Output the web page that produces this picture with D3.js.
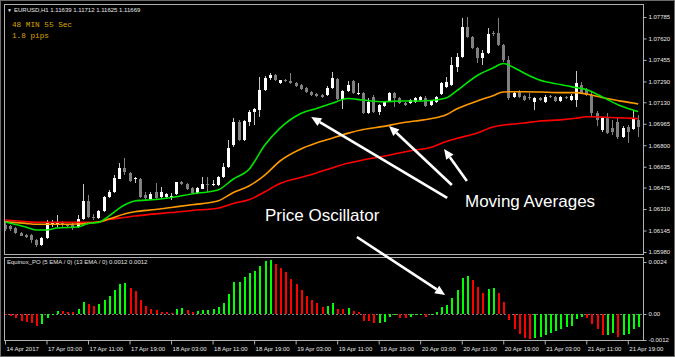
<!DOCTYPE html>
<html><head><meta charset="utf-8">
<script src="https://cdn.jsdelivr.net/npm/d3@7"></script>
<style>html,body{margin:0;padding:0;background:#000;overflow:hidden}svg{display:block}</style>
</head><body>
<script>
// ---------- DATA ----------
const opens=[1.06187,1.06180,1.06164,1.06126,1.06111,1.06111,1.06072,1.06034,1.06088,1.06195,
1.06187,1.06210,1.06187,1.06195,1.06172,1.06233,1.06372,1.06249,1.06241,1.06295,
1.06402,1.06441,1.06541,1.06625,1.06587,1.06541,1.06541,1.06418,1.06387,1.06441,
1.06402,1.06402,1.06402,1.06426,1.06518,1.06502,1.06472,1.06433,1.06464,1.06502,
1.06495,1.06495,1.06556,1.06633,1.06802,1.06978,1.06840,1.06978,1.07055,1.07071,
1.07224,1.07316,1.07339,1.07278,1.07301,1.07293,1.07278,1.07263,1.07240,1.07209,
1.07193,1.07186,1.07186,1.07240,1.07309,1.07155,1.07217,1.07293,1.07193,1.07201,
1.07048,1.07170,1.07055,1.07101,1.07140,1.07201,1.07163,1.07124,1.07124,1.07132,
1.07147,1.07163,1.07109,1.07132,1.07193,1.07247,1.07263,1.07401,1.07478,1.07708,
1.07631,1.07547,1.07470,1.07508,1.07662,1.07662,1.07570,1.07455,1.07170,1.07209,
1.07178,1.07170,1.07132,1.07163,1.07132,1.07178,1.07170,1.07140,1.07170,1.07147,
1.07147,1.07263,1.07224,1.07186,1.07048,1.06917,1.07009,1.06932,1.06978,1.06863,
1.06940,1.06925,1.06994];
const highs=[1.06210,1.06187,1.06172,1.06134,1.06118,1.06118,1.06080,1.06095,1.06226,1.06226,
1.06264,1.06218,1.06195,1.06203,1.06264,1.06502,1.06418,1.06272,1.06303,1.06410,
1.06456,1.06571,1.06664,1.06702,1.06594,1.06556,1.06548,1.06441,1.06441,1.06510,
1.06479,1.06433,1.06433,1.06518,1.06525,1.06510,1.06479,1.06479,1.06556,1.06556,
1.06533,1.06564,1.06664,1.06840,1.07009,1.06994,1.06994,1.07071,1.07086,1.07324,
1.07332,1.07355,1.07347,1.07301,1.07309,1.07355,1.07286,1.07270,1.07247,1.07217,
1.07201,1.07193,1.07255,1.07362,1.07316,1.07224,1.07293,1.07301,1.07278,1.07209,
1.07163,1.07186,1.07117,1.07140,1.07209,1.07209,1.07170,1.07132,1.07155,1.07170,
1.07178,1.07178,1.07147,1.07178,1.07286,1.07324,1.07478,1.07508,1.07777,1.07785,
1.07639,1.07554,1.07531,1.07700,1.07677,1.07777,1.07578,1.07485,1.07217,1.07224,
1.07186,1.07201,1.07170,1.07170,1.07186,1.07186,1.07178,1.07178,1.07178,1.07193,
1.07370,1.07286,1.07240,1.07209,1.07063,1.07017,1.07048,1.06994,1.07017,1.06948,
1.06955,1.07071,1.07032];
const lows=[1.06141,1.06141,1.06118,1.06103,1.06088,1.06049,1.06018,1.06026,1.06080,1.06172,
1.06172,1.06172,1.06172,1.06149,1.06164,1.06226,1.06241,1.06226,1.06233,1.06287,
1.06395,1.06433,1.06541,1.06571,1.06518,1.06510,1.06395,1.06379,1.06379,1.06379,
1.06395,1.06395,1.06379,1.06418,1.06495,1.06456,1.06426,1.06426,1.06464,1.06441,
1.06487,1.06487,1.06548,1.06625,1.06786,1.06833,1.06833,1.06948,1.06955,1.07017,
1.07217,1.07301,1.07293,1.07270,1.07286,1.07270,1.07247,1.07224,1.07201,1.07178,
1.07170,1.07163,1.07178,1.07232,1.07147,1.07078,1.07209,1.07193,1.07186,1.07040,
1.07040,1.07048,1.07032,1.07094,1.07132,1.07094,1.07117,1.07101,1.07117,1.07124,
1.07140,1.07094,1.07101,1.07124,1.07186,1.07240,1.07255,1.07362,1.07470,1.07624,
1.07539,1.07432,1.07416,1.07501,1.07639,1.07562,1.07439,1.07147,1.07163,1.07163,
1.07140,1.07147,1.07071,1.07140,1.07124,1.07163,1.07132,1.07132,1.07155,1.07140,
1.07094,1.07193,1.07178,1.07017,1.06948,1.06902,1.06886,1.06879,1.06848,1.06856,
1.06817,1.06917,1.06863];
const closes=[1.06157,1.06157,1.06126,1.06103,1.06095,1.06072,1.06034,1.06088,1.06203,1.06210,
1.06210,1.06187,1.06180,1.06164,1.06233,1.06372,1.06249,1.06241,1.06295,1.06402,
1.06441,1.06548,1.06625,1.06594,1.06525,1.06548,1.06402,1.06395,1.06426,1.06395,
1.06441,1.06426,1.06410,1.06518,1.06502,1.06464,1.06433,1.06472,1.06502,1.06495,
1.06502,1.06556,1.06633,1.06779,1.06978,1.06840,1.06986,1.07055,1.07078,1.07224,
1.07316,1.07339,1.07301,1.07301,1.07293,1.07278,1.07255,1.07232,1.07209,1.07186,
1.07178,1.07170,1.07240,1.07316,1.07155,1.07217,1.07263,1.07201,1.07201,1.07048,
1.07132,1.07055,1.07109,1.07132,1.07201,1.07163,1.07124,1.07109,1.07147,1.07163,
1.07170,1.07101,1.07140,1.07170,1.07278,1.07286,1.07416,1.07478,1.07708,1.07631,
1.07547,1.07470,1.07508,1.07654,1.07658,1.07570,1.07455,1.07163,1.07201,1.07170,
1.07147,1.07163,1.07163,1.07147,1.07170,1.07170,1.07140,1.07170,1.07163,1.07178,
1.07278,1.07201,1.07186,1.07048,1.06994,1.07009,1.06894,1.06902,1.06863,1.06932,
1.06902,1.07009,1.06940];
const oscValues=[-0.00003,-0.00008,-0.00020,-0.00033,-0.00036,-0.00043,-0.00056,-0.00047,-0.00020,-0.00003,
0.00016,0.00012,0.00011,0.00010,0.00022,0.00056,0.00047,0.00037,0.00045,0.00065,
0.00081,0.00112,0.00138,0.00141,0.00121,0.00105,0.00065,0.00037,0.00022,0.00017,
0.00009,0.00008,0.00006,0.00022,0.00026,0.00019,0.00011,0.00014,0.00017,0.00019,
0.00022,0.00034,0.00053,0.00093,0.00149,0.00150,0.00171,0.00189,0.00197,0.00223,
0.00243,0.00251,0.00233,0.00212,0.00192,0.00161,0.00140,0.00109,0.00084,0.00065,
0.00050,0.00034,0.00037,0.00053,0.00025,0.00022,0.00026,0.00014,0.00009,-0.00031,
-0.00032,-0.00043,-0.00040,-0.00036,-0.00012,-0.00006,-0.00017,-0.00020,-0.00012,-0.00006,
-0.00003,-0.00012,-0.00006,0.00011,0.00031,0.00042,0.00076,0.00109,0.00164,0.00177,
0.00155,0.00124,0.00099,0.00115,0.00119,0.00099,0.00057,-0.00028,-0.00070,-0.00090,
-0.00109,-0.00116,-0.00110,-0.00108,-0.00098,-0.00087,-0.00078,-0.00070,-0.00059,-0.00056,
-0.00025,-0.00016,-0.00019,-0.00047,-0.00071,-0.00098,-0.00095,-0.00087,-0.00105,-0.00098,
-0.00090,-0.00071,-0.00059];
const maIdx=[0,4,6,8,10,14,16,18,20,23,25,29,32,36,41,44,47,50,53,57,60,63,66,69,73,76,79,82,85,87,91,94,96,98,100,103,107,110,112,115,118,121,122];
const maFast=[1.06210,1.06172,1.06149,1.06149,1.06164,1.06172,1.06199,1.06207,1.06256,1.06341,1.06372,1.06383,1.06399,1.06426,1.06456,1.06541,1.06614,1.06798,1.06932,1.07044,1.07082,1.07122,1.07159,1.07147,1.07134,1.07140,1.07140,1.07144,1.07163,1.07217,1.07336,1.07393,1.07428,1.07397,1.07355,1.07301,1.07266,1.07243,1.07228,1.07173,1.07113,1.07071,1.07059];
const maMid=[1.06213,1.06200,1.06193,1.06193,1.06193,1.06195,1.06200,1.06210,1.06233,1.06272,1.06289,1.06306,1.06322,1.06343,1.06372,1.06437,1.06487,1.06569,1.06679,1.06771,1.06817,1.06854,1.06891,1.06921,1.06945,1.06969,1.06986,1.07003,1.07034,1.07078,1.07140,1.07181,1.07209,1.07211,1.07211,1.07209,1.07204,1.07204,1.07193,1.07167,1.07144,1.07124,1.07117];
const maSlow=[1.06226,1.06214,1.06208,1.06208,1.06208,1.06208,1.06208,1.06210,1.06229,1.06245,1.06256,1.06273,1.06283,1.06299,1.06316,1.06353,1.06381,1.06441,1.06506,1.06552,1.06587,1.06625,1.06661,1.06687,1.06715,1.06740,1.06763,1.06783,1.06829,1.06852,1.06894,1.06940,1.06955,1.06963,1.06971,1.06986,1.06995,1.07007,1.07019,1.07017,1.07011,1.07006,1.07004];
const priceTicks=[1.07785,1.07620,1.07455,1.07290,1.07130,1.06965,1.06800,1.06635,1.06475,1.06310,1.06145,1.05980];
const priceTickLabels=["1.07785","1.07620","1.07455","1.07290","1.07130","1.06965","1.06800","1.06635","1.06475","1.06310","1.06145","1.05980"];
const oscTicks=[0.0024,0,-0.0012];
const oscTickLabels=["0.0024","0.00","-0.0012"];
const timeTickIdx=[0,8,16,24,32,40,48,56,64,72,80,88,96,104,112,120];
const timeLabels=["14 Apr 2017","17 Apr 03:00","17 Apr 11:00","17 Apr 19:00","18 Apr 03:00","18 Apr 11:00","18 Apr 19:00","19 Apr 03:00","19 Apr 11:00","19 Apr 19:00","20 Apr 03:00","20 Apr 11:00","20 Apr 19:00","21 Apr 03:00","21 Apr 11:00","21 Apr 19:00"];
const headerText="EURUSD,H1  1.11639 1.11712 1.11625 1.11669";
const timerText="48 MIN 55 Sec";
const spreadText="1.8 pips";
const oscTitle="Equinox_PO (5 EMA / 0) (13 EMA / 0) 0.0012 0.0012";
// annotations: [tailIndex, tailValue, tipIndex, tipValue, panel]
const annoArrows=[[85.2,1.06395,59.0,1.07017,"p"],[86.1,1.06495,74.0,1.06948,"p"],[89.0,1.06525,84.6,1.06771,"p"],[67.8,1.06095,84.8,0.00088,"o"]];

// ---------- LAYOUT ----------
const W=675,H=357;
const L=4,R=643,mainTop=4,mainBot=254,oscTop=257,oscBot=340;
const svg=d3.select("body").append("svg").attr("width",W).attr("height",H).style("background","#000");
const x=d3.scaleLinear().domain([0,122]).range([5,5+122*5.19]);
const y=d3.scaleLinear().domain([1.05980,1.07785]).range([252,17]);
const yo=d3.scaleLinear().domain([-0.0012,0.0024]).range([340,262]);
const defs=svg.append("defs");
defs.append("clipPath").attr("id","cm").append("rect").attr("x",L+1).attr("y",mainTop+1).attr("width",R-L-1).attr("height",mainBot-mainTop-1);
defs.append("clipPath").attr("id","co").append("rect").attr("x",L+1).attr("y",oscTop+1).attr("width",R-L-1).attr("height",oscBot-oscTop-1);

const FONT="'Liberation Sans', Arial, sans-serif";
// frames
svg.append("rect").attr("x",0.5).attr("y",0.5).attr("width",W-1).attr("height",H-1).attr("fill","none").attr("stroke","#6a6a6a");
svg.append("rect").attr("x",L+0.5).attr("y",mainTop+0.5).attr("width",R-L).attr("height",mainBot-mainTop).attr("fill","none").attr("stroke","#b0b0b0");
svg.append("rect").attr("x",L+0.5).attr("y",oscTop+0.5).attr("width",R-L).attr("height",oscBot-oscTop).attr("fill","none").attr("stroke","#b0b0b0");

const data=opens.map((o,i)=>({i,o,h:highs[i],l:lows[i],c:closes[i]}));
const gm=svg.append("g").attr("clip-path","url(#cm)");
// candles
const cg=gm.append("g").attr("shape-rendering","crispEdges");
cg.selectAll("line.w").data(data).join("line")
  .attr("x1",d=>Math.round(x(d.i))+0.5).attr("x2",d=>Math.round(x(d.i))+0.5)
  .attr("y1",d=>y(d.h)).attr("y2",d=>y(d.l))
  .attr("stroke",d=>d.c>=d.o?"#c8c8c8":"#808080").attr("stroke-width",1);
cg.selectAll("rect.b").data(data).join("rect")
  .attr("x",d=>Math.round(x(d.i))-1).attr("width",3)
  .attr("y",d=>y(Math.max(d.o,d.c))).attr("height",d=>Math.max(1,Math.abs(y(d.o)-y(d.c))))
  .attr("fill",d=>d.c>=d.o?"#ffffff":"#808080");
// moving averages
const line=d3.line().x(d=>x(d[0])).y(d=>y(d[1])).curve(d3.curveMonotoneX);
[[maSlow,"#ff0000"],[maMid,"#ff9900"],[maFast,"#00e600"]].forEach(([arr,col])=>{
  gm.append("path").datum(maIdx.map((k,j)=>[k,arr[j]])).attr("d",line).attr("fill","none").attr("stroke",col).attr("stroke-width",1.6);
});

// oscillator
const go=svg.append("g").attr("clip-path","url(#co)");
go.append("line").attr("x1",L).attr("x2",R).attr("y1",yo(0)+0.5).attr("y2",yo(0)+0.5).attr("stroke","#7a7a7a").attr("stroke-dasharray","2,2");
go.append("g").attr("shape-rendering","crispEdges").selectAll("rect").data(oscValues).join("rect")
  .attr("x",(v,i)=>Math.round(x(i))-0.5).attr("width",2)
  .attr("y",v=>Math.min(yo(v),yo(0))).attr("height",v=>Math.max(1,Math.abs(yo(v)-yo(0))))
  .attr("fill",(v,i)=>(i>0&&v>oscValues[i-1])?"#00ff00":"#ff0000");

// price axis
const pa=svg.append("g").attr("transform",`translate(${R+0.5},0)`);
const pax=d3.axisRight(y).tickValues(priceTicks).tickFormat((d,i)=>priceTickLabels[i]).tickSize(3).tickPadding(2);
pa.call(pax);
const oa=svg.append("g").attr("transform",`translate(${R+0.5},0)`);
oa.call(d3.axisRight(yo).tickValues(oscTicks).tickFormat((d,i)=>oscTickLabels[i]).tickSize(3).tickPadding(2));
[pa,oa].forEach(g=>{g.select(".domain").remove();g.selectAll("line").attr("stroke","#b0b0b0");
  g.selectAll("text").attr("fill","#e8e8e8").style("font-family",FONT).style("font-size","6px");});
// time axis
const ta=svg.append("g").attr("transform",`translate(0,${oscBot+0.5})`);
ta.call(d3.axisBottom(x).tickValues(timeTickIdx).tickFormat((d,i)=>timeLabels[i]).tickSize(4).tickPadding(2));
ta.select(".domain").remove();
ta.selectAll("line").attr("stroke","#b0b0b0");
ta.selectAll("text").attr("fill","#e8e8e8").attr("text-anchor","start").attr("dx",1).style("font-family",FONT).style("font-size","6px");

// header texts
svg.append("text").attr("x",7).attr("y",12).attr("fill","#e8e8e8").style("font-family",FONT).style("font-size","5px").text("▼");
svg.append("text").attr("x",14).attr("y",12).attr("fill","#e8e8e8").style("font-family",FONT).style("font-size","6px").text(headerText);
svg.append("text").attr("x",12).attr("y",27).attr("fill","#d9a40a").style("font-family","'Liberation Mono', monospace").style("font-size","7.7px").text(timerText);
svg.append("text").attr("x",12).attr("y",38).attr("fill","#d9a40a").style("font-family","'Liberation Mono', monospace").style("font-size","7.7px").text(spreadText);
svg.append("text").attr("x",7).attr("y",264).attr("fill","#e0e0e0").style("font-family",FONT).style("font-size","6px").text(oscTitle);

// annotations
svg.append("text").attr("x",265).attr("y",221).attr("fill","#fff").style("font-family",FONT).style("font-size","17px").text("Price Oscillator");
svg.append("text").attr("x",465).attr("y",207).attr("fill","#fff").style("font-family",FONT).style("font-size","17px").text("Moving Averages");
const ag=svg.append("g");
annoArrows.forEach(([ti,tv,hi,hv,p])=>{
  const x1=x(ti),y1=y(tv),x2=x(hi),y2=(p==="o"?yo(hv):y(hv));
  const ang=Math.atan2(y2-y1,x2-x1),len=10,wid=4.5;
  const bx=x2-len*Math.cos(ang),by=y2-len*Math.sin(ang);
  ag.append("line").attr("x1",x1).attr("y1",y1).attr("x2",bx).attr("y2",by).attr("stroke","#fff").attr("stroke-width",2.6);
  const px=-Math.sin(ang),py=Math.cos(ang);
  ag.append("path").attr("d",`M${x2},${y2}L${bx+px*wid},${by+py*wid}L${bx-px*wid},${by-py*wid}Z`).attr("fill","#fff");
});
</script>
</body></html>
